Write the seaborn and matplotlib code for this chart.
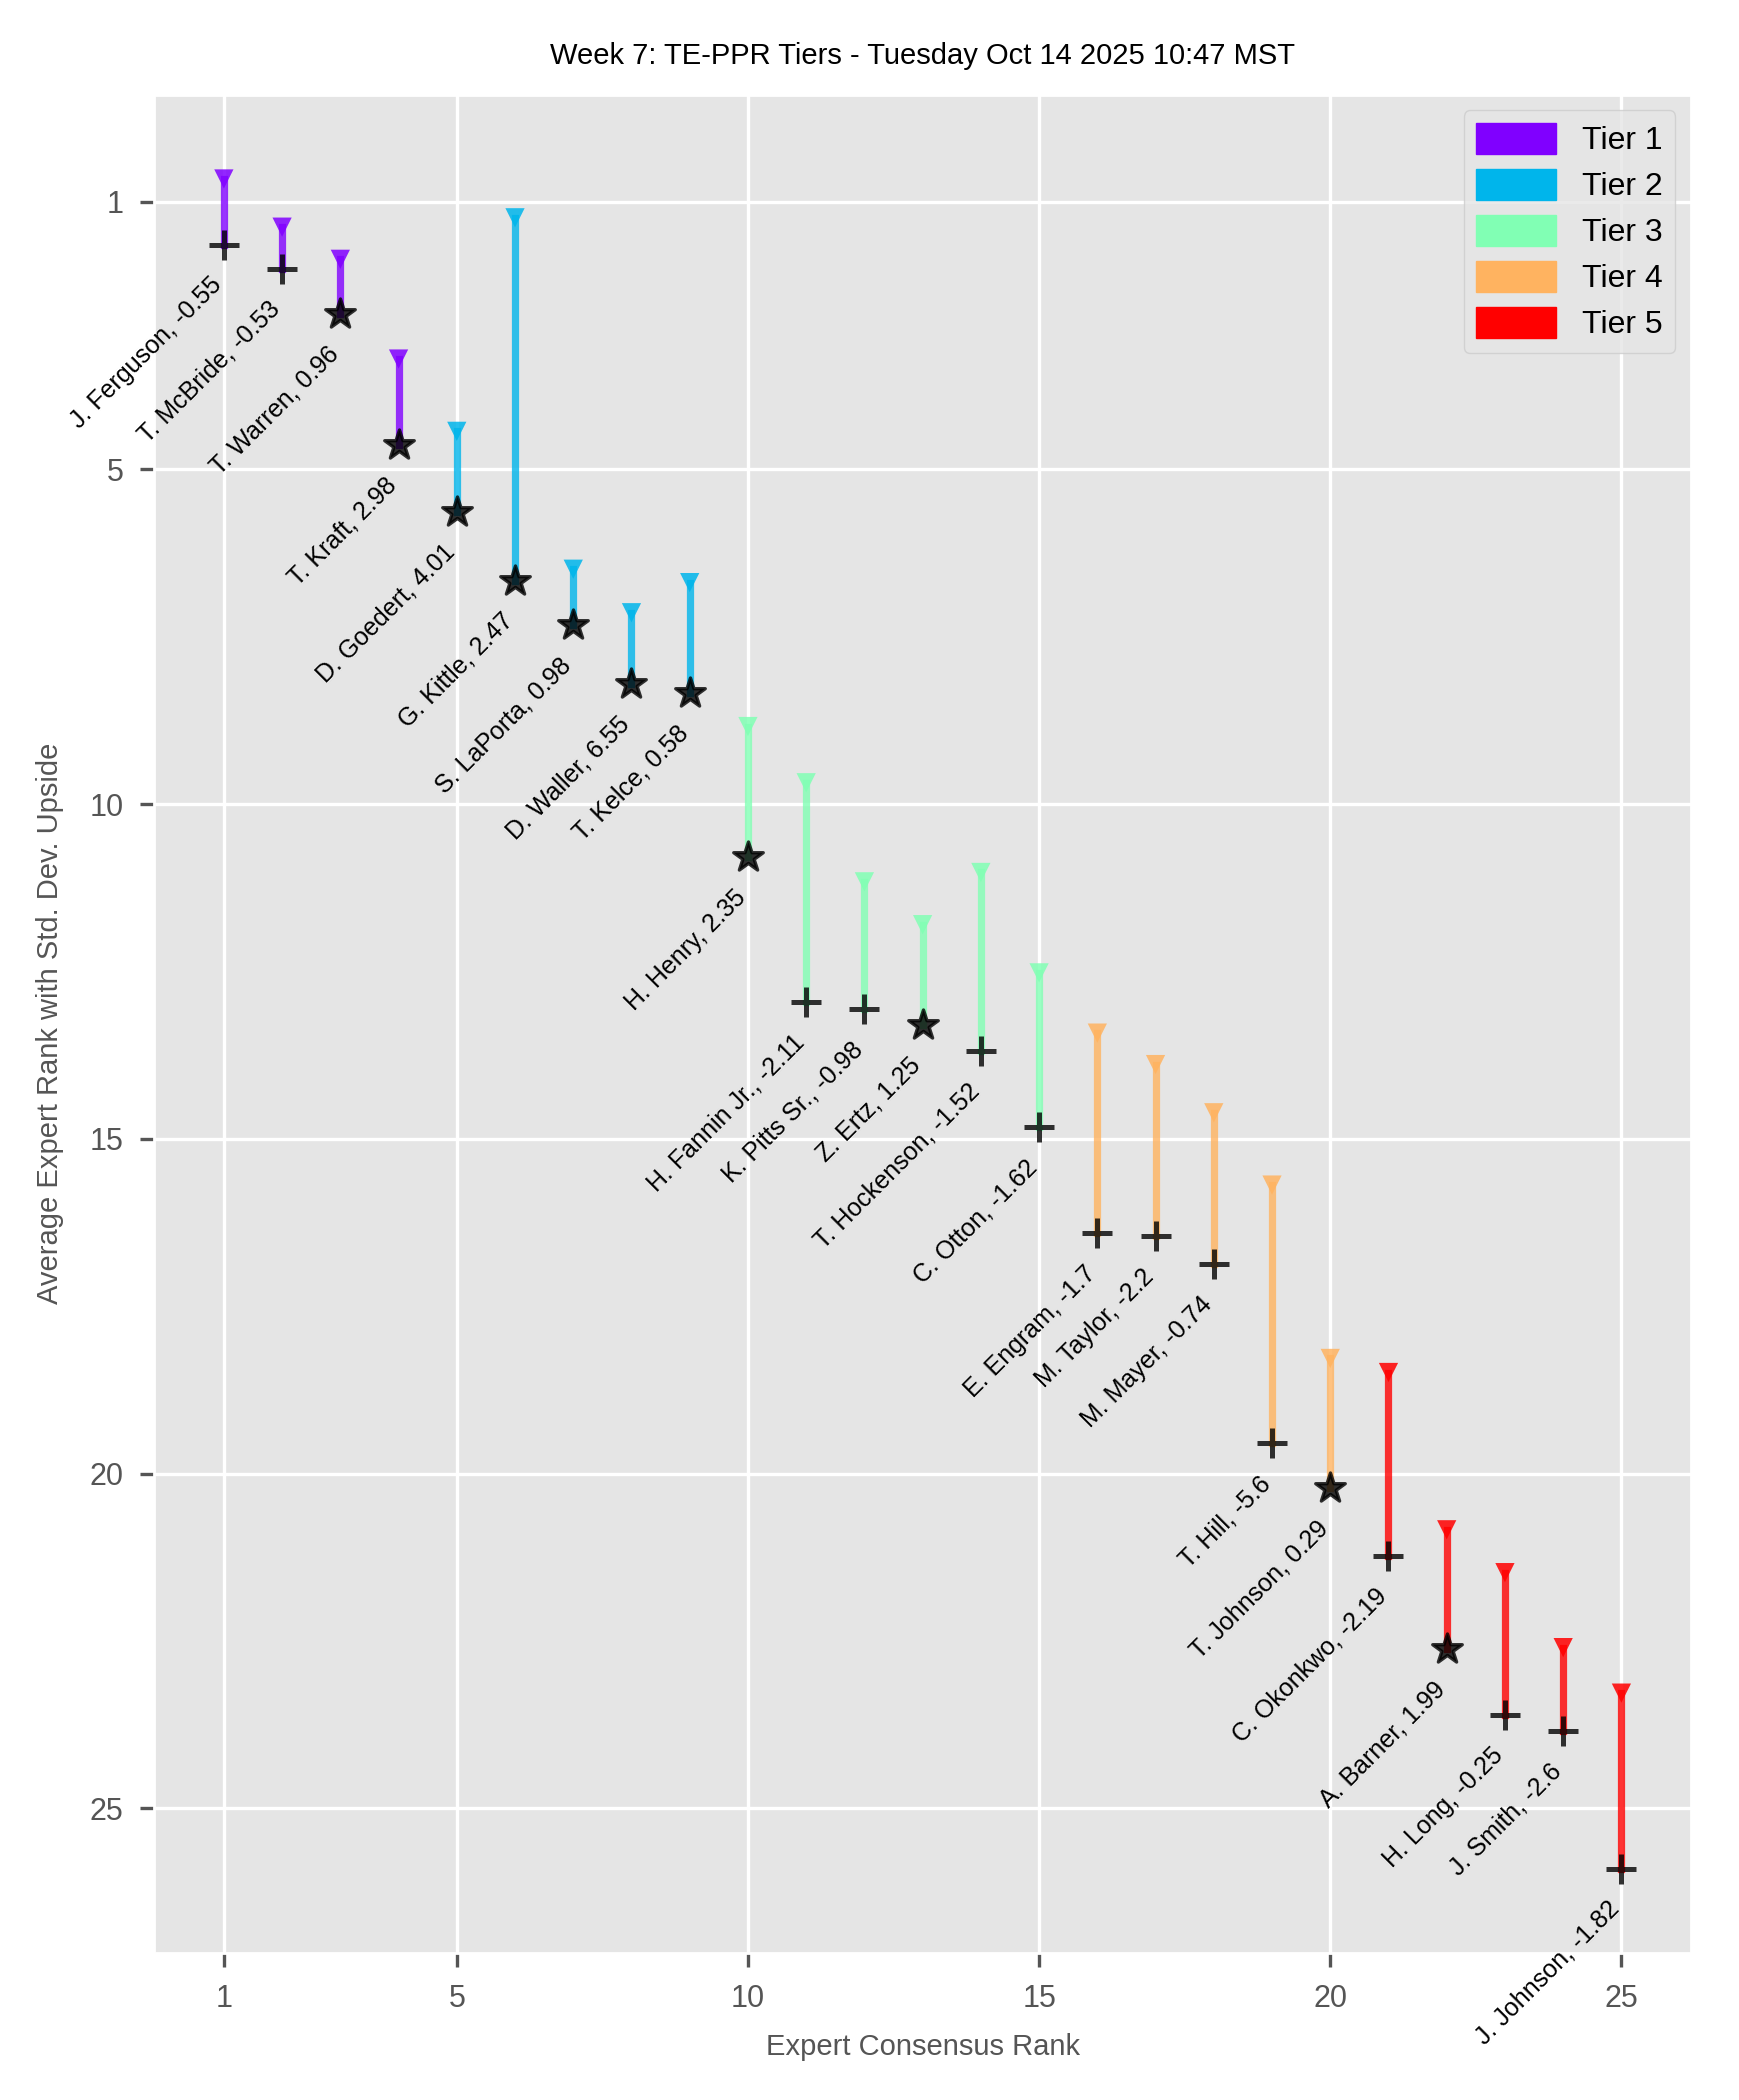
import numpy as np
import pandas as pd
import seaborn as sns
import matplotlib.pyplot as plt
import matplotlib.patches as mpatches

# Player data
players = ['J. Ferguson', 'T. McBride', 'T. Warren', 'T. Kraft', 'D. Goedert',
           'G. Kittle', 'S. LaPorta', 'D. Waller', 'T. Kelce', 'H. Henry',
           'H. Fannin Jr.', 'K. Pitts Sr.', 'Z. Ertz', 'T. Hockenson', 'C. Otton',
           'E. Engram', 'M. Taylor', 'M. Mayer', 'T. Hill', 'T. Johnson',
           'C. Okonkwo', 'A. Barner', 'H. Long', 'J. Smith', 'J. Johnson']
ecr = list(range(1, 26))
avg_rank = [1.64, 2.00, 2.67, 4.63, 5.63, 6.66, 7.32, 8.21, 8.34, 10.79,
            12.96, 13.06, 13.30, 13.68, 14.82, 16.41, 16.45, 16.87, 19.55, 20.21,
            21.23, 22.62, 23.60, 23.84, 25.90]
std_dev = [0.98, 0.62, 0.81, 1.28, 1.20, 5.42, 0.83, 1.07, 1.65, 1.95,
           3.28, 1.90, 1.50, 2.66, 2.30, 2.99, 2.56, 2.26, 3.86, 1.93,
           2.74, 1.78, 2.12, 1.24, 2.62]
score = [-0.55, -0.53, 0.96, 2.98, 4.01, 2.47, 0.98, 6.55, 0.58, 2.35,
         -2.11, -0.98, 1.25, -1.52, -1.62, -1.7, -2.2, -0.74, -5.6, 0.29,
         -2.19, 1.99, -0.25, -2.6, -1.82]
tiers = [1, 1, 1, 1, 2, 2, 2, 2, 2, 3, 3, 3, 3, 3, 3, 4, 4, 4, 4, 4, 5, 5, 5, 5, 5]

df = pd.DataFrame({'Player': players, 'ECR': ecr, 'Avg': avg_rank,
                   'Std': std_dev, 'Score': score, 'Tier': tiers})
df['Upside'] = df['Avg'] - df['Std']

plt.style.use('ggplot')
plt.rcParams['font.family'] = ['Liberation Sans', 'DejaVu Sans']
plt.rcParams['grid.linewidth'] = 1.2

tier_list = sorted(df['Tier'].unique())
colors = plt.cm.rainbow(np.linspace(0, 1, len(tier_list)))
palette = {t: colors[i] for i, t in enumerate(tier_list)}

fig, ax = plt.subplots(figsize=(8.7, 10.5), dpi=200)
fig.subplots_adjust(left=0.0885, right=0.972, top=0.955, bottom=0.07)

# Std. dev. upside bars
for _, row in df.iterrows():
    ax.plot([row['ECR'], row['ECR']], [row['Avg'], row['Upside']],
            color=palette[row['Tier']], lw=2.6, alpha=0.8, zorder=2)

# Upside markers
sns.scatterplot(data=df, x='ECR', y='Upside', hue='Tier', palette=palette,
                marker='v', s=48, linewidth=0, alpha=0.85, legend=False,
                ax=ax, zorder=3)

# Average rank markers: star if score positive, plus otherwise
pos = df[df['Score'] > 0]
neg = df[df['Score'] <= 0]
sns.scatterplot(data=pos, x='ECR', y='Avg', marker='*', s=125, color='black',
                edgecolor='black', linewidth=1.2, alpha=0.8, legend=False,
                ax=ax, zorder=4)
ax.scatter(neg['ECR'], neg['Avg'], marker='+', s=110, color='black',
           linewidths=1.8, alpha=0.8, zorder=4)

for _, row in df.iterrows():
    ax.text(row['ECR'] + 0.05, row['Avg'] + 0.42,
            f"{row['Player']}, {row['Score']:g}",
            rotation=45, ha='right', va='top', fontsize=9, color='black')

ax.invert_yaxis()
ax.set_xticks([1, 5, 10, 15, 20, 25])
ax.set_yticks([1, 5, 10, 15, 20, 25])
ax.tick_params(labelsize=11, length=5, width=1.2, pad=6)
ax.set_xlabel('Expert Consensus Rank', fontsize=10.5, labelpad=7)
ax.set_ylabel('Average Expert Rank with Std. Dev. Upside', fontsize=10.5,
              labelpad=9)
ax.set_title('Week 7: TE-PPR Tiers - Tuesday Oct 14 2025 10:47 MST',
             fontsize=10.5, pad=11)

handles = [mpatches.Patch(color=palette[t], label=f'Tier {t}') for t in tier_list]
ax.legend(handles=handles, loc='upper right', fontsize=11.5,
          handlelength=2.5, handleheight=1.1, labelspacing=0.4)

plt.savefig('out.png', dpi=200)
